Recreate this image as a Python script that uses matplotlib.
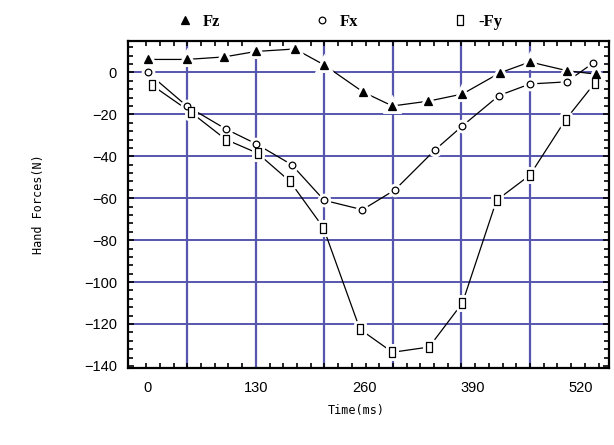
import numpy as np
import matplotlib
matplotlib.use('agg')
import matplotlib.pyplot as plt
from matplotlib.lines import Line2D
from matplotlib.path import Path
from matplotlib.ticker import FixedLocator, MultipleLocator

# Values
t_fz = [0, 47, 92, 130, 177, 212, 259, 294, 337, 378, 423, 459, 504, 538]
fz = [6.2, 6.2, 7.4, 10, 11.2, 3.6, -9.4, -16, -13.7, -10.3, -0.2, 5, 0.8, -0.8]

t_fx = [0, 47, 94, 130, 173, 212, 258, 297, 345, 378, 422, 459, 503, 535]
fx = [0, -16, -27, -34, -44, -61, -65.5, -56, -37, -25.5, -11, -5.5, -4.5, 4.5]

t_fy = [5, 52, 94, 132, 171, 211, 255, 294, 338, 378, 419, 459, 502, 537]
neg_fy = [-6, -19, -32, -38.5, -52, -74, -122.5, -133.5, -131, -110, -61, -49, -22.5, -5]

x_ticks = [0, 130, 260, 390, 520]
y_ticks = [0, -20, -40, -60, -80, -100, -120, -140]
labels = ['Fz', 'Fx', '-Fy']

grid_blue = '#5656ae'
# tall narrow box marker, like the original's glyph
box = Path([(-0.5, -1), (0.5, -1), (0.5, 1), (-0.5, 1), (-0.5, -1)],
           [Path.MOVETO, Path.LINETO, Path.LINETO, Path.LINETO, Path.CLOSEPOLY])

fig = plt.figure(figsize=(6.14, 4.45), dpi=100)
ax = fig.add_axes([128 / 614, 77 / 445, 481 / 614, 327 / 445])

# grid lines drawn by hand (vertical ones are not on the labelled ticks)
grid_x = np.arange(47.7, 500, 82.3)
for g in grid_x:
    ax.axvline(g, color=grid_blue, lw=1.6, zorder=1)
for g in y_ticks[:-1]:
    ax.axhline(g, color=grid_blue, lw=1.4, zorder=1)

series = [
    (t_fz, fz, '^', 5.5, 'black'),
    (t_fx, fx, 'o', 4.8, 'white'),
    (t_fy, neg_fy, box, 7.5, 'white'),
]
for t, v, mk, ms, fc in series:
    ax.plot(t, v, color='black', lw=0.9, zorder=2)
    # white halo so lines and grid stop short of the markers
    ax.plot(t, v, ls='none', marker=mk, ms=ms, mfc='white', mec='white', mew=5, zorder=3)
    ax.plot(t, v, ls='none', marker=mk, ms=ms, mfc=fc, mec='black', mew=0.9, zorder=4)

ax.set_xlim(-23.5, 554)
ax.set_ylim(-141, 15)

ax.set_xticks(x_ticks)
ax.set_xticklabels([str(x) for x in x_ticks])
ax.xaxis.set_minor_locator(FixedLocator(np.arange(47.7 - 3 * 16.46, 554, 16.46)))
ax.set_yticks(y_ticks)
ax.yaxis.set_minor_locator(MultipleLocator(4))

ax.tick_params(axis='x', which='major', length=0, pad=9, labelsize=10.5)
ax.tick_params(axis='y', which='major', direction='in', length=4, width=1.2,
               right=True, pad=8, labelsize=10.5)
ax.tick_params(which='minor', direction='in', length=3.5, width=1.2,
               top=True, right=True)
for lab in ax.get_xticklabels() + ax.get_yticklabels():
    lab.set_family('Liberation Sans')

for sp in ax.spines.values():
    sp.set_linewidth(1.6)
    sp.set_zorder(5)

ax.set_xlabel('Time(ms)', family='DejaVu Sans Mono', fontsize=8.5)
ax.set_ylabel('Hand Forces(N)', family='DejaVu Sans Mono', fontsize=8.5)
ax.xaxis.set_label_coords(0.474, -0.11)
ax.yaxis.set_label_coords(-0.172, 0.5)

handles = [Line2D([], [], ls='none', marker=mk, ms=ms, mfc=fc, mec='black', mew=0.9)
           for _, _, mk, ms, fc in series]
fig.legend(handles, labels, loc='center', bbox_to_anchor=(0.553, 0.95), ncol=3,
           frameon=False, handlelength=1, handletextpad=0.6, columnspacing=5.6,
           prop={'family': 'Liberation Serif', 'weight': 'bold', 'size': 12})

fig.savefig('out.png', dpi=100)
